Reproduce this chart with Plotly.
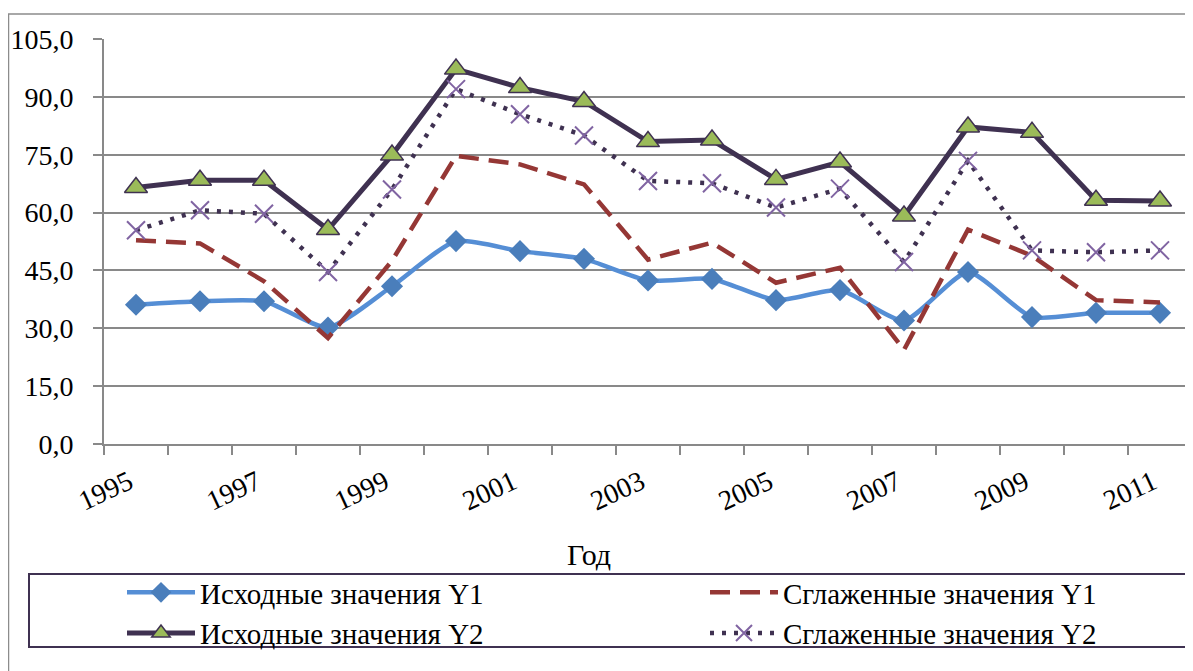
import plotly.graph_objects as go

years = list(range(1995, 2012))
y1_orig = [36.1, 37.0, 37.0, 30.2, 40.9, 52.6, 50.0, 48.0, 42.4, 42.8, 37.3, 39.9, 32.0, 44.6, 32.9, 34.0, 34.0]
y1_smooth = [52.8, 52.0, 42.2, 27.5, 47.5, 74.7, 72.5, 67.3, 47.8, 52.2, 41.8, 45.7, 24.4, 55.6, 48.8, 37.3, 36.7]
y2_orig = [66.5, 68.4, 68.4, 55.6, 74.9, 97.2, 92.4, 88.8, 78.4, 78.8, 68.6, 73.1, 59.1, 82.2, 80.8, 63.2, 63.0]
y2_smooth = [55.4, 60.6, 59.7, 44.6, 66.0, 92.0, 85.5, 80.0, 68.2, 67.6, 61.3, 66.2, 47.2, 73.4, 50.2, 49.7, 50.2]
label_years = [1995, 1997, 1999, 2001, 2003, 2005, 2007, 2009, 2011]
y_ticks = [0, 15, 30, 45, 60, 75, 90, 105]

FONT = "Liberation Serif"
GRID = "#898989"

fig = go.Figure()
fig.add_trace(go.Scatter(
    x=years, y=y1_orig, name="Исходные значения Y1", mode="lines+markers",
    legend="legend",
    line=dict(color="#558ED5", width=4.5, shape="spline", smoothing=0.6),
    marker=dict(symbol="diamond", size=17, color="#4A7EBB")))
fig.add_trace(go.Scatter(
    x=years, y=y1_smooth, name="Сглаженные значения Y1", mode="lines",
    legend="legend2",
    line=dict(color="#953735", width=4.5, dash="20px,10px")))
fig.add_trace(go.Scatter(
    x=years, y=y2_orig, name="Исходные значения Y2", mode="lines+markers",
    legend="legend",
    line=dict(color="#3F3151", width=5),
    marker=dict(symbol="triangle-up", size=20, color="#9BBB59",
                line=dict(color="#3F3151", width=1.5))))
fig.add_trace(go.Scatter(
    x=years, y=y2_smooth, name="Сглаженные значения Y2", mode="lines+markers",
    legend="legend2",
    line=dict(color="#3F3151", width=4.5, dash="4px,8px"),
    marker=dict(symbol="x-thin", size=18, color="#8064A2",
                line=dict(color="#8064A2", width=2))))

# page body has an 8px margin, so the figure is drawn from (8, 8)
OFF = 8
W, H = 1193 - OFF, 671 - OFF
L, R, T, B = 104 - OFF, 1192 - OFF, 39 - OFF, 444 - OFF
pw, ph = R - L, B - T

def px(x):
    return (x - OFF - L) / pw

def py(y):
    return (B - (y - OFF)) / ph

# chart area border
fig.add_shape(type="rect", xref="paper", yref="paper",
              x0=px(8.5), x1=px(1210), y0=py(14), y1=py(700),
              line=dict(color="#8C8C8C", width=1.5), fillcolor="rgba(0,0,0,0)", layer="below")
# legend box
fig.add_shape(type="rect", xref="paper", yref="paper",
              x0=px(29), x1=px(1210), y0=py(574), y1=py(647),
              line=dict(color="#3F3151", width=2), fillcolor="rgba(0,0,0,0)")

fig.add_annotation(text="Год", xref="paper", yref="paper", x=px(589), y=py(554),
                   showarrow=False, font=dict(family=FONT, size=30, color="black"),
                   xanchor="center", yanchor="middle")

leg_common = dict(orientation="v", xref="container", yref="container",
                  xanchor="left", yanchor="top", itemwidth=68,
                  font=dict(family=FONT, size=29, color="black"),
                  bgcolor="rgba(0,0,0,0)", borderwidth=0, tracegroupgap=0)

fig.update_layout(
    width=W, height=H,
    margin=dict(l=L, r=W - R, t=T, b=H - B, autoexpand=False),
    paper_bgcolor="white", plot_bgcolor="white",
    separators=", ",
    font=dict(family=FONT, size=28, color="black"),
    showlegend=True,
    legend=dict(x=(122 - OFF) / W, y=1 - (567 - OFF) / H, **leg_common),
    legend2=dict(x=(705 - OFF) / W, y=1 - (567 - OFF) / H, **leg_common),
    xaxis=dict(range=[1994.5, 2011.5], tickmode="array", tickvals=label_years,
               ticktext=[str(v) for v in label_years], tickangle=-25, ticks="",
               showgrid=False, showline=True, linecolor=GRID, linewidth=2,
               zeroline=False, tickfont=dict(family=FONT, size=28),
               ticklabelstandoff=9, ticklabelshift=-7,
               minor=dict(tickmode="linear", tick0=0.5, dtick=1, ticks="outside",
                          ticklen=9, tickwidth=2, tickcolor=GRID, showgrid=False)),
    yaxis=dict(range=[0, 105], tickmode="array", tickvals=y_ticks, tickformat=".1f",
               showgrid=True, gridcolor=GRID, gridwidth=2, zeroline=False,
               showline=True, linecolor=GRID, linewidth=2,
               ticks="outside", ticklen=9, tickwidth=2, tickcolor=GRID,
               ticklabelstandoff=14, tickfont=dict(family=FONT, size=28)),
)

fig.write_html("out.html")
